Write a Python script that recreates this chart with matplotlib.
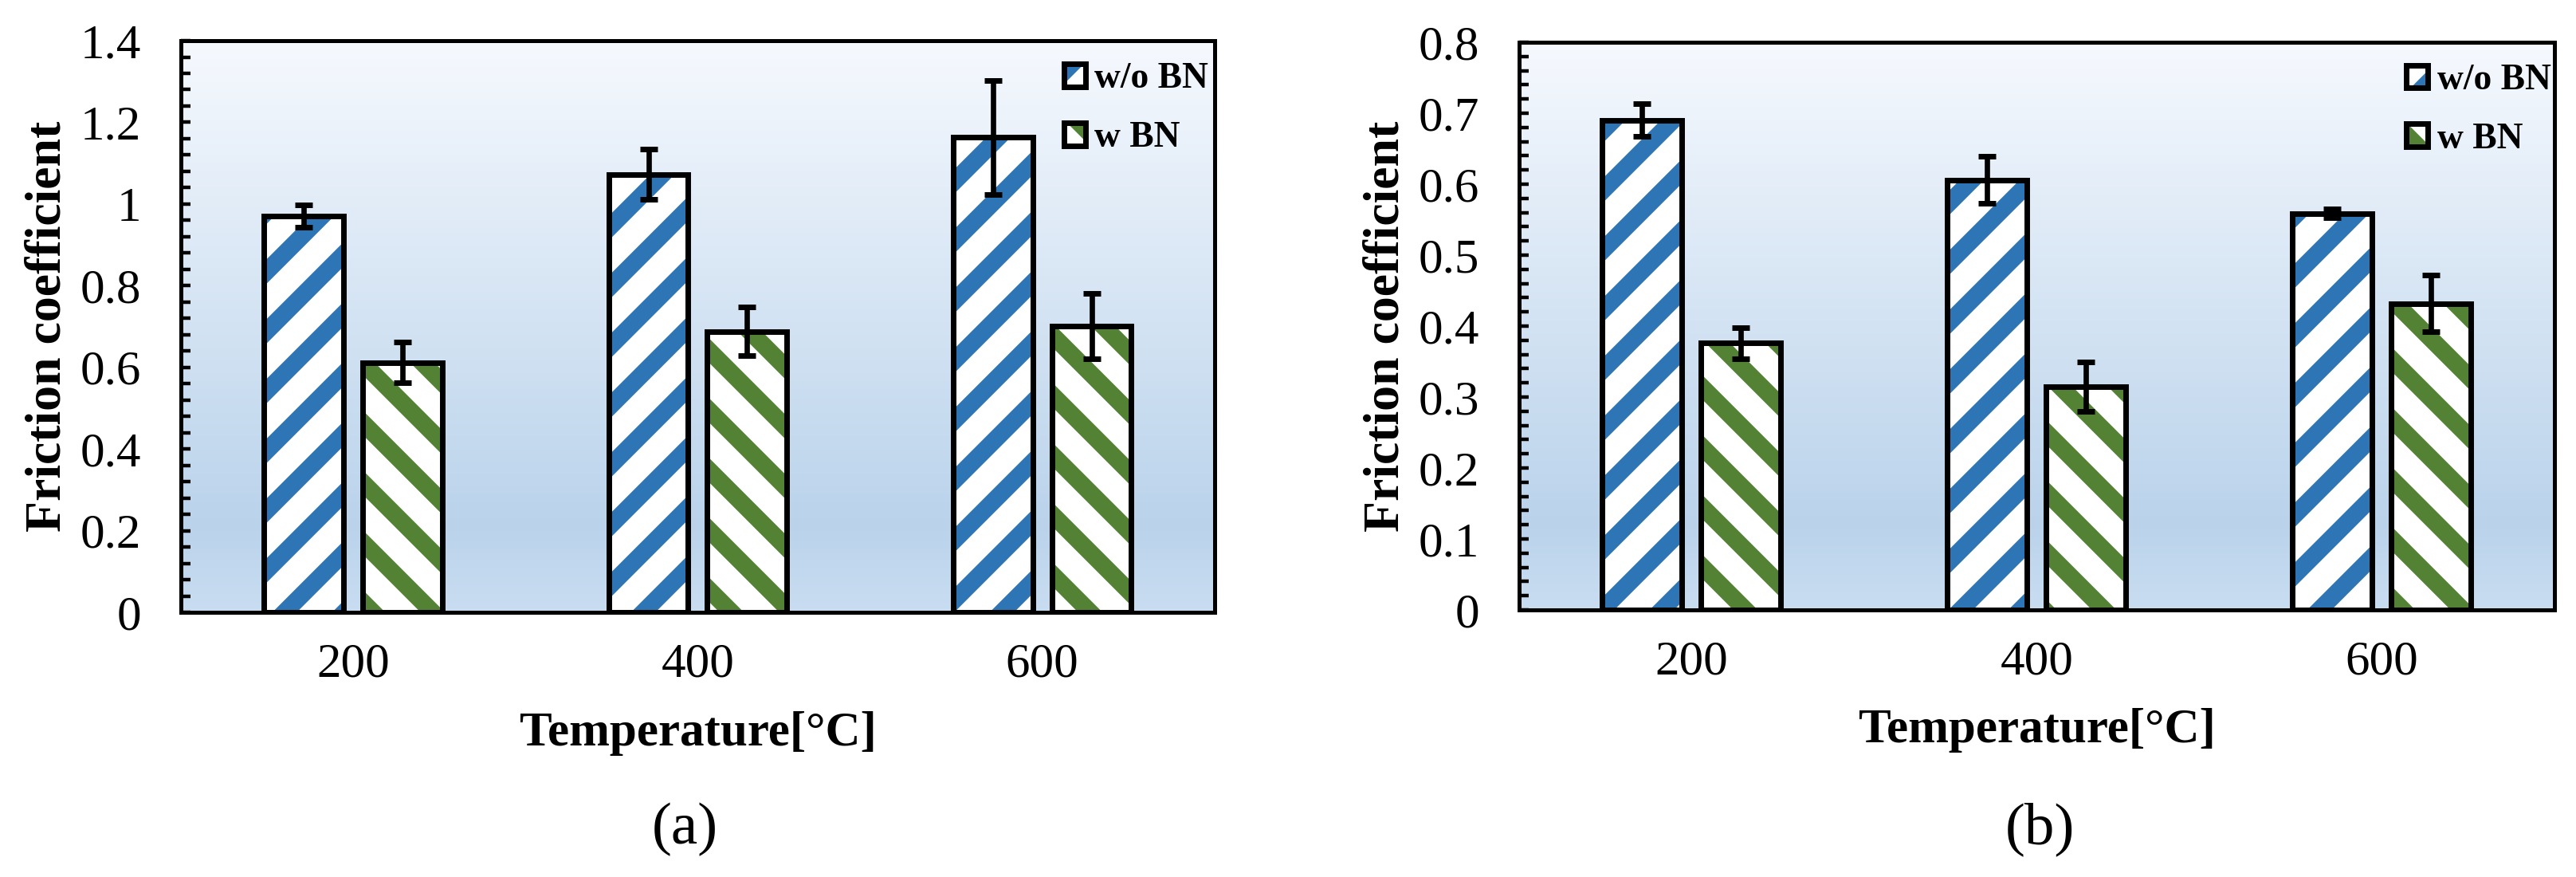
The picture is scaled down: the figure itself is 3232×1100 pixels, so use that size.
import numpy as np
import matplotlib.pyplot as plt
import matplotlib.patches as mpatches
from matplotlib.colors import LinearSegmentedColormap
from matplotlib.ticker import MultipleLocator

# values
temps = ['200', '400', '600']
series_names = ['w/o BN', 'w BN']

fric_a_wo = [0.970, 1.073, 1.163]
err_a_wo = [0.027, 0.062, 0.140]
fric_a_w = [0.612, 0.688, 0.701]
err_a_w = [0.050, 0.060, 0.080]

fric_b_wo = [0.690, 0.606, 0.559]
err_b_wo = [0.023, 0.033, 0.006]
fric_b_w = [0.376, 0.315, 0.432]
err_b_w = [0.022, 0.035, 0.040]

BLUE = '#2E75B6'
GREEN = '#548235'

# hatch spacing follows the dpi, so pick the dpi for the stripe period
# and scale every point size back with S
DPI = 450
S = 400 / DPI

plt.rcParams['font.family'] = ['Liberation Serif', 'DejaVu Serif']
plt.rcParams['hatch.linewidth'] = 3.9 * S
plt.rcParams['axes.linewidth'] = 0.9 * S

bg_cmap = LinearSegmentedColormap.from_list(
    'bg', [(0.0, '#C9DDF1'), (0.15, '#BAD3EB'), (1.0, '#F6F9FE')])


def draw_panel(ax, wo, wo_err, w, w_err, ymax, major, minor, leg_xy, tag, tag_x):
    x = np.arange(len(temps))
    width = 0.231
    off = 0.143

    # gradient background
    grad = np.linspace(0, 1, 256).reshape(-1, 1)
    ax.imshow(grad, cmap=bg_cmap, origin='lower', aspect='auto',
              extent=[0, 1, 0, 1], transform=ax.transAxes, zorder=0)

    handles = []
    for vals, errs, pos, col, hatch in [(wo, wo_err, x - off, BLUE, '//'),
                                        (w, w_err, x + off, GREEN, '\\\\')]:
        ax.bar(pos, vals, width, color='white', edgecolor=col, hatch=hatch,
               linewidth=0, zorder=2)
        ax.bar(pos, vals, width, color='none', edgecolor='black',
               linewidth=1.25 * S, zorder=3)
        ax.errorbar(pos, vals, yerr=errs, fmt='none', ecolor='black',
                    elinewidth=1.2 * S, capsize=1.9 * S, capthick=1.25 * S, zorder=4)
        h1 = mpatches.Patch(facecolor='white', edgecolor=col, hatch=hatch, linewidth=0)
        h2 = mpatches.Patch(facecolor='none', edgecolor='black', linewidth=1.25 * S)
        handles.append((h1, h2))

    ax.set_xlim(-0.5, len(temps) - 0.5)
    ax.set_ylim(0, ymax)
    ax.set_xticks(x)
    ax.set_xticklabels(temps)
    ax.yaxis.set_major_locator(MultipleLocator(major))
    ax.yaxis.set_minor_locator(MultipleLocator(minor))
    ax.yaxis.set_major_formatter(plt.FuncFormatter(lambda v, p: f'{v:g}'))
    ax.tick_params(axis='x', length=0, pad=6.8 * S, labelsize=11 * S)
    ax.tick_params(axis='y', which='both', direction='in', length=2.2 * S,
                   width=0.8 * S, pad=9 * S, labelsize=11 * S)

    ax.set_ylabel('Friction coefficient', fontsize=11.5 * S, fontweight='bold')
    ax.yaxis.set_label_coords(-0.106, 0.5)
    ax.set_xlabel('Temperature[°C]', fontsize=11 * S, fontweight='bold')
    ax.xaxis.set_label_coords(0.5, -0.173)

    ax.legend(handles, series_names, loc='upper left', bbox_to_anchor=leg_xy,
              frameon=False, borderpad=0, borderaxespad=0,
              handlelength=0.6, handleheight=0.6, handletextpad=0.25,
              labelspacing=0.7, prop={'weight': 'bold', 'size': 8.2 * S})

    fig.text(tag_x, 0.054, tag, ha='center', va='center', fontsize=13.5 * S)


fig = plt.figure(figsize=(3232 / DPI, 1100 / DPI), dpi=DPI)
ax1 = fig.add_axes([0.0702, 0.3018, 0.4013, 0.6518])
ax2 = fig.add_axes([0.5897, 0.3045, 0.4019, 0.6473])

draw_panel(ax1, fric_a_wo, err_a_wo, fric_a_w, err_a_w, 1.4, 0.2, 0.04,
           (0.854, 0.962), '(a)', 0.2658)
draw_panel(ax2, fric_b_wo, err_b_wo, fric_b_w, err_b_w, 0.8, 0.1, 0.02,
           (0.857, 0.962), '(b)', 0.792)

fig.savefig('out.png', dpi=DPI)
